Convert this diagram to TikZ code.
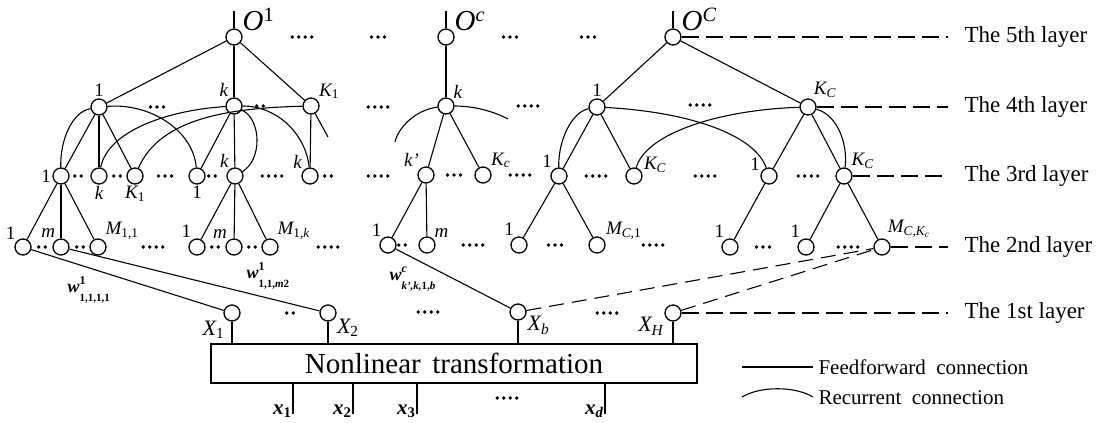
\documentclass[tikz,border=0pt]{standalone}
\usepackage{fontspec}
\setmainfont{Liberation Serif}
\usetikzlibrary{positioning, calc}

% row of small dots: x, y, count
\newcommand{\dotrow}[3]{%
  \foreach \i in {1,...,#3} \fill ({#1+6.5*\i-3.25*(#3+1)},#2) circle (1.9pt);}
% weight with raised and lowered indices
\newcommand{\wgt}[3]{#1\rlap{\raisebox{8pt}{\fontsize{12}{12}\selectfont #2}}%
  \raisebox{-9pt}{\fontsize{11}{11}\selectfont #3}}

\begin{document}
\begin{tikzpicture}[x=1pt, y=-1pt, line width=1.1pt,
  neuron/.style={circle, draw, line width=1.3pt, minimum size=16pt,
    inner sep=0pt, fill=white},
  lbl/.style={font=\fontsize{19}{19}\selectfont\itshape, inner sep=1pt},
  olbl/.style={font=\fontsize{29}{29}\selectfont\itshape, inner sep=1pt},
  xlbl/.style={font=\fontsize{22}{22}\selectfont\itshape, inner sep=1pt},
  inlbl/.style={font=\fontsize{21}{21}\selectfont\itshape\bfseries, inner sep=1pt},
  wlbl/.style={font=\fontsize{18}{18}\selectfont\itshape\bfseries, inner sep=0pt,
    anchor=west},
  layertxt/.style={font=\fontsize{23}{23}\selectfont, anchor=west,
    inner xsep=16pt, inner ysep=0pt},
  dline/.style={dash pattern=on 17pt off 7pt},
  legtxt/.style={font=\fontsize{21}{21}\selectfont, anchor=west, inner sep=0pt}
]
\useasboundingbox (0,0) rectangle (1106,423);

% the 5th layer
\node[neuron, label={[olbl]35:O\textsuperscript{\upshape 1}}] (o1) at (234,37) {};
\node[neuron, label={[olbl]35:O\textsuperscript{c}}] (oc) at (446,37) {};
\node[neuron, label={[olbl]35:O\textsuperscript{C}}] (oC) at (673,37) {};
\foreach \o in {o1,oc,oC} \draw (\o.north) -- ++(0,-17);

% the 4th layer
\node[neuron, label={[lbl]90:{\upshape 1}}] (a4) at (99,107) {};
\node[neuron, label={[lbl]120:k}] (k4) at (234,106) {};
\node[neuron, label={[lbl]40:K\textsubscript{\upshape 1}}] (K4) at (311,106) {};
\node[neuron, label={[lbl]45:k}] (ck4) at (446,106) {};
\node[neuron, label={[lbl]90:{\upshape 1}}] (ra4) at (597,107) {};
\node[neuron, label={[lbl]60:K\textsubscript{C}}] (rK4) at (808,107) {};

% the 3rd layer
\node[neuron, label={[lbl]180:{\upshape 1}}] (a3) at (61,176) {};
\node[neuron, label={[lbl]-90:k}] (k3) at (99,176) {};
\node[neuron, label={[lbl]-90:K\textsubscript{\upshape 1}}] (K3) at (135,176) {};
\node[neuron, label={[lbl]-90:{\upshape 1}}] (b3) at (197,176) {};
\node[neuron, label={[lbl]125:k}] (kb3) at (235,176) {};
\node[neuron, label={[lbl]140:k}] (kc3) at (310,176) {};
\node[neuron, label={[lbl]130:k'}] (ck3) at (426,175) {};
\node[neuron, label={[lbl]40:K\textsubscript{c}}] (cK3) at (483,175) {};
\node[neuron, label={[lbl]130:{\upshape 1}}] (ra3) at (559,176) {};
\node[neuron, label={[lbl]10:K\textsubscript{C}}] (rK3) at (634,176) {};
\node[neuron, label={[lbl]150:{\upshape 1}}] (rb3) at (769,176) {};
\node[neuron, label={[lbl]45:K\textsubscript{C}}] (rL3) at (844,176) {};

% the 2nd layer
\node[neuron, label={[lbl]135:{\upshape 1}}] (p1) at (23,247) {};
\node[neuron, label={[lbl]120:m}] (pm) at (61,247) {};
\node[neuron, label={[lbl]45:{M\textsubscript{\upshape 1,1}}}] (pM) at (98,247) {};
\node[neuron, label={[lbl]120:{\upshape 1}}] (q1) at (197,247) {};
\node[neuron, label={[lbl]130:m}] (qm) at (234,247) {};
\node[neuron, label={[lbl]45:{M\textsubscript{\upshape 1,\itshape k}}}] (qM) at (270,247) {};
\node[neuron, label={[lbl]125:{\upshape 1}}] (s1) at (388,245) {};
\node[neuron, label={[lbl]45:m}] (sm) at (427,245) {};
\node[neuron, label={[lbl]115:{\upshape 1}}] (t1) at (519,245) {};
\node[neuron, label={[lbl]30:{M\textsubscript{C,\upshape 1}}}] (tM) at (597,245) {};
\node[neuron, label={[lbl]120:{\upshape 1}}] (u1) at (730,247) {};
\node[neuron, label={[lbl]120:{\upshape 1}}] (v1) at (806,247) {};
\node[neuron, label={[lbl]60:{M\textsubscript{C,K\textsubscript{c}}}}] (vM) at (882,247) {};

% the 1st layer
\node[neuron, label={[xlbl]-135:X\textsubscript{\upshape 1}}] (x1) at (232,313) {};
\node[neuron, label={[xlbl]-30:X\textsubscript{\upshape 2}}] (x2) at (328,313) {};
\node[neuron, label={[xlbl]-20:X\textsubscript{b}}] (xb) at (518,312) {};
\node[neuron, label={[xlbl]-160:X\textsubscript{H}}] (xH) at (673,313) {};

\node[draw, line width=1.3pt, minimum width=486pt, minimum height=39pt,
  font=\fontsize{29}{29}\selectfont] (nlt) at (454,363.5) {Nonlinear\hspace{0.15em} transformation};
\foreach \x in {x1,x2,xb,xH} \draw (\x) -- (\x |- nlt.north);

% inputs
\coordinate[label={[inlbl, anchor=base east]180:x\textsubscript{\upshape 1}}] (in1) at (293,414);
\coordinate[label={[inlbl, anchor=base east]180:x\textsubscript{\upshape 2}}] (in2) at (353,414);
\coordinate[label={[inlbl, anchor=base east]180:x\textsubscript{\upshape 3}}] (in3) at (417,414);
\coordinate[label={[inlbl, anchor=base east]180:x\textsubscript{d}}] (ind) at (605,414);
\foreach \i in {in1,in2,in3,ind} \draw (\i) -- (\i |- nlt.south);

% feedforward connections
\draw (o1) -- (a4); \draw (o1) -- (k4); \draw (o1) -- (K4);
\draw (oc) -- (ck4);
\draw (oC) -- (ra4); \draw (oC) -- (rK4);
\draw (a4) -- (a3); \draw (a4) -- (k3); \draw (a4) -- (K3);
\draw (k4) -- (b3); \draw (k4) -- (kb3);
\draw (K4) -- (kc3);
\coordinate (Kout) at (328,137);
\draw (K4) -- (Kout);
\draw (ck4) -- (ck3); \draw (ck4) -- (cK3);
\draw (ra4) -- (ra3); \draw (ra4) -- (rK3);
\draw (rK4) -- (rb3); \draw (rK4) -- (rL3);
\draw (a3) -- (p1); \draw (a3) -- (pm); \draw (a3) -- (pM);
\draw (kb3) -- (q1); \draw (kb3) -- (qm); \draw (kb3) -- (qM);
\draw (ck3) -- (s1); \draw (ck3) -- (sm);
\draw (ra3) -- (t1); \draw (ra3) -- (tM);
\draw (rb3) -- (u1);
\draw (rL3) -- (v1); \draw (rL3) -- (vM);
\draw (p1) -- (x1); \draw (pm) -- (x2); \draw (s1) -- (xb);
\draw[dash pattern=on 15pt off 8pt] (xb) -- (vM);
\draw[dash pattern=on 15pt off 8pt] (xH) -- (vM);

% recurrent connections
\draw (a4) .. controls (72,112) and (60,140) .. (a3);
\draw (a4) .. controls (150,103) and (193,130) .. (b3);
\draw (k4) .. controls (170,110) and (108,130) .. (k3);
\draw (K4) .. controls (230,108) and (160,118) .. (K3);
\draw (k4) .. controls (262,120) and (262,160) .. (kb3);
\draw (k4) .. controls (278,106) and (306,135) .. (kc3);
\coordinate (cra) at (395,142);
\coordinate (crb) at (508,119);
\draw (ck4) .. controls (415,110) and (398,128) .. (cra);
\draw (ck4) .. controls (475,106) and (495,112) .. (crb);
\draw (ra4) .. controls (572,112) and (558,140) .. (ra3);
\draw (ra4) .. controls (690,112) and (755,135) .. (rb3);
\draw (rK4) .. controls (715,110) and (645,135) .. (rK3);
\draw (rK4) .. controls (838,115) and (848,145) .. (rL3);

% weights
\node[wlbl] (w1) at (67,290) {\wgt{w}{\upshape 1}{\upshape 1,1,1,1}};
\node[wlbl] (w2) at (246,276) {\wgt{w}{\upshape 1}{\upshape 1,1,\itshape m\upshape 2}};
\node[wlbl] (wc) at (389,279) {\wgt{w}{c}{k',k,\upshape 1,\itshape b}};

% dots
\foreach \x/\y/\n in {302/37/4, 378/37/3, 510/37/3, 588/37/3,
  157/107/3, 260/106/2, 378/107/4, 528/106/4, 700/105/4,
  78/176/2, 117/176/2, 165/176/3, 212/176/2, 272/176/4, 328/176/2,
  378/176/4, 454/175/3, 520/175/4, 596/176/4, 705/176/4, 808/176/4,
  42/247/2, 80/247/2, 153/247/4, 215/247/2, 252/247/2, 328/247/4,
  402/245/2, 473/245/4, 555/245/3, 653/245/4, 763/247/3, 848/247/4,
  290/313/2, 428/312/4, 607/313/4, 507/398/4}
  {\dotrow{\x}{\y}{\n}}

% layer names
\node[layertxt] (lay5) at (948,37) {The 5th layer};
\node[layertxt] (lay4) at (948,107) {The 4th layer};
\node[layertxt] (lay3) at (948,176) {The 3rd layer};
\node[layertxt] (lay2) at (948,247) {The 2nd layer};
\node[layertxt] (lay1) at (948,313) {The 1st layer};
\draw[dline] (oC) -- (lay5.west);
\draw[dline] (rK4) -- (lay4.west);
\draw[dline] (rL3) -- (lay3.west);
\draw[dline] (vM) -- (lay2.west);
\draw[dline] (xH) -- (lay1.west);

% legend
\coordinate (ff1) at (742,367);
\node[legtxt] (ffl) at (818,367) {Feedforward\enspace connection};
\draw (ff1) -- (ffl.west -| 813,0);
\coordinate (rc1) at (742,397);
\coordinate (rc2) at (813,397);
\node[legtxt] (rcl) at (818,398) {Recurrent\enspace connection};
\draw (rc1) .. controls (760,386) and (795,386) .. (rc2);
\end{tikzpicture}
\end{document}
